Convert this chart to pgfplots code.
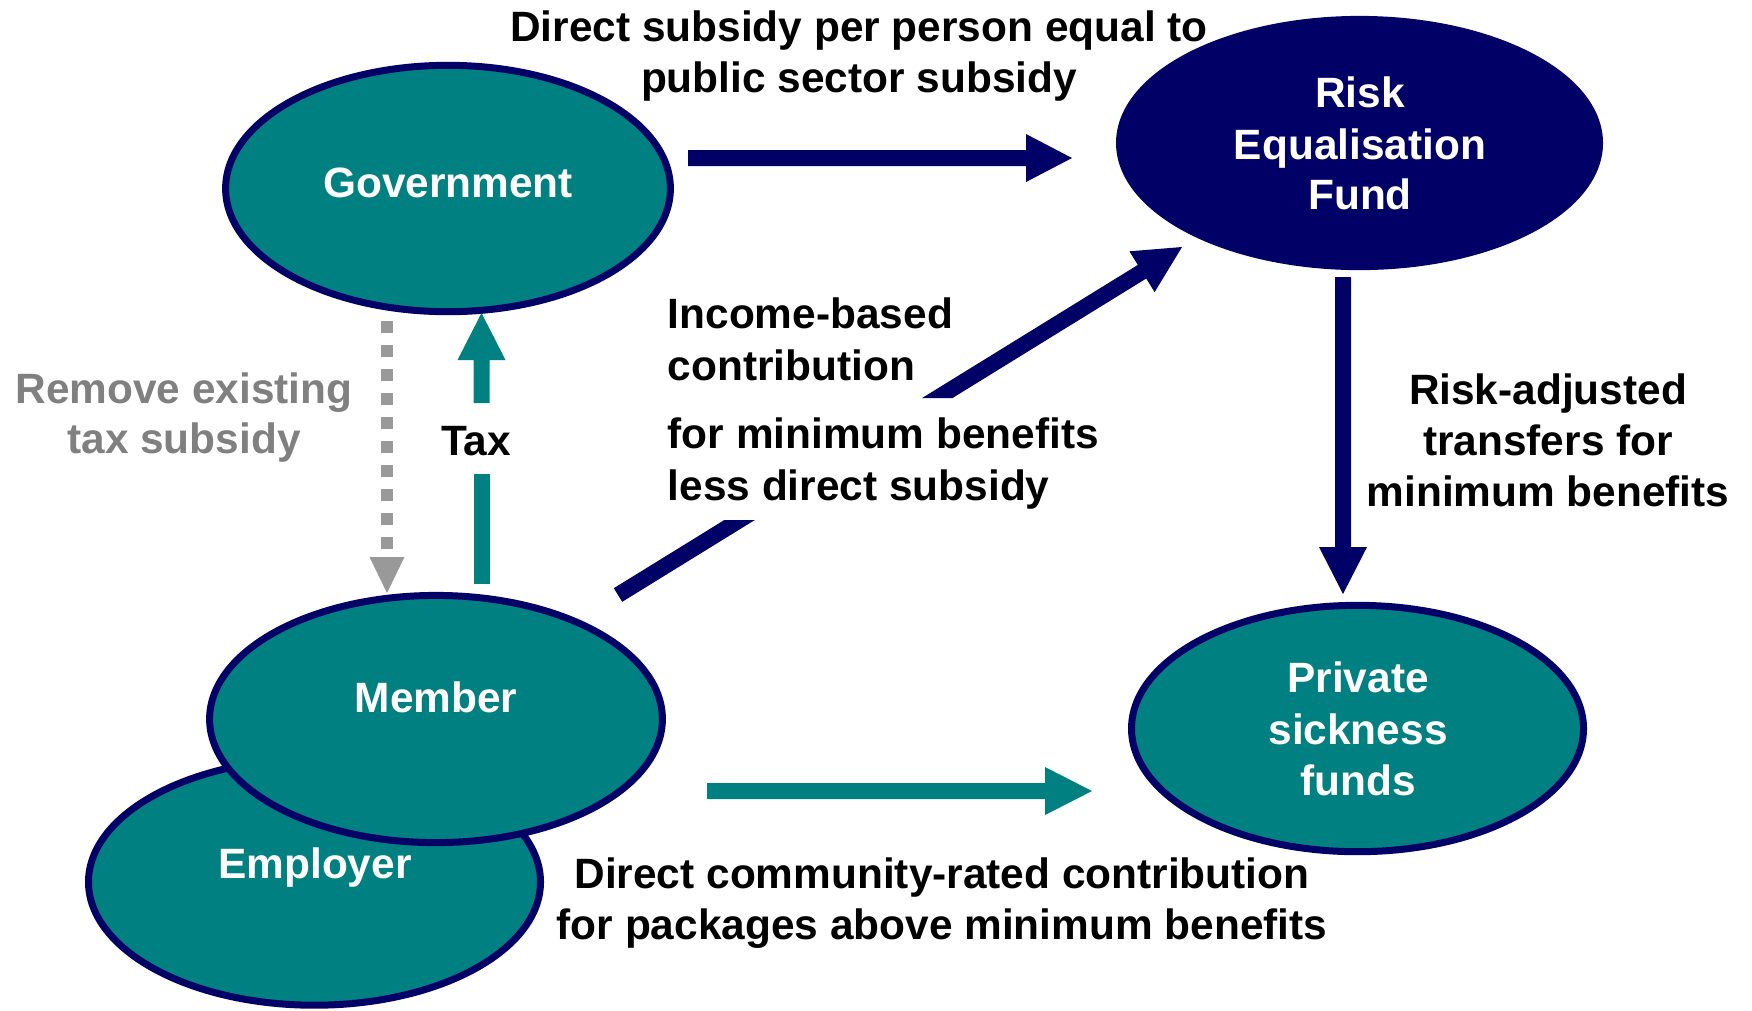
\documentclass[border=0pt]{standalone}
\usepackage{pgfplots}
\pgfplotsset{compat=1.18}
\usepackage{fontspec}
\setmainfont{Liberation Sans}[BoldFont={Liberation Sans Bold}]
\definecolor{tealc}{HTML}{008080}
\definecolor{navyc}{HTML}{000066}
\definecolor{agray}{HTML}{999999}
\definecolor{tgray}{HTML}{808080}
\tikzset{lbl/.style={inner sep=0pt, font=\bfseries\fontsize{10.6}{13}\selectfont}}
\begin{document}
\begin{tikzpicture}
\begin{axis}[width=438pt, height=252.5pt, scale only axis,
  xmin=0, xmax=1752, ymin=0, ymax=1010, y dir=reverse, hide axis]
\addplot[draw=none] coordinates {(0,0) (1752,1010)};
% ellipses
\draw[navyc, line width=1.75pt, fill=tealc] (axis cs:314.5,882) ellipse [x radius=56.5pt, y radius=30.8pt];
\draw[navyc, line width=1.75pt, fill=tealc] (axis cs:436,719) ellipse [x radius=56.6pt, y radius=30.9pt];
\draw[navyc, line width=1.75pt, fill=tealc] (axis cs:448,188.5) ellipse [x radius=55.6pt, y radius=30.8pt];
\draw[navyc, line width=1.75pt, fill=navyc] (axis cs:1359.5,143) ellipse [x radius=60pt, y radius=30.9pt];
\draw[navyc, line width=1.75pt, fill=tealc] (axis cs:1357.5,728.5) ellipse [x radius=56.5pt, y radius=30.8pt];
% Government -> Risk fund
\addplot[fill=navyc, draw=none] coordinates {(688,150) (1026,150) (1026,134) (1072,158) (1026,182) (1026,166) (688,166)} -- cycle;
% Member -> Risk fund (diagonal, split by text)
\addplot[fill=navyc, draw=none] coordinates {(922.1,398) (1137.8,264.9) (1129.4,251.3) (1182,247) (1154.6,292.1) (1146.2,278.5) (952.5,398)} -- cycle;
\addplot[fill=navyc, draw=none] coordinates {(613.8,588.2) (724.3,520) (754.8,520) (622.2,601.8)} -- cycle;
% Risk fund -> Private funds
\addplot[fill=navyc, draw=none] coordinates {(1335,277) (1351,277) (1351,547) (1367,547) (1343,594) (1319,547) (1335,547)} -- cycle;
% Member -> Private funds
\addplot[fill=tealc, draw=none] coordinates {(707,783) (1045,783) (1045,767) (1092,791) (1045,815) (1045,799) (707,799)} -- cycle;
% Tax arrow
\addplot[fill=tealc, draw=none] coordinates {(473.5,403) (473.5,360) (457.5,360) (481.5,313) (505.5,360) (489.5,360) (489.5,403)} -- cycle;
\addplot[fill=tealc, draw=none] coordinates {(473.5,474) (489.5,474) (489.5,584) (473.5,584)} -- cycle;
% dashed gray arrow
\addplot[agray, line width=3pt, dash pattern=on 3pt off 3pt] coordinates {(387,321) (387,549)};
\addplot[fill=agray, draw=none] coordinates {(369.5,557) (404.5,557) (387,593)} -- cycle;
% ellipse labels
\node[lbl, anchor=base, white] at (axis cs:448,197) {Government};
\node[lbl, anchor=base, white] at (axis cs:1360,107) {Risk};
\node[lbl, anchor=base, white] at (axis cs:1360,159) {Equalisation};
\node[lbl, anchor=base, white] at (axis cs:1360,209) {Fund};
\node[lbl, anchor=base, white] at (axis cs:436,712) {Member};
\node[lbl, anchor=base, white] at (axis cs:315,878) {Employer};
\node[lbl, anchor=base, white] at (axis cs:1358,692) {Private};
\node[lbl, anchor=base, white] at (axis cs:1358,744) {sickness};
\node[lbl, anchor=base, white] at (axis cs:1358,795) {funds};
% flow labels
\node[lbl, anchor=base] at (axis cs:859,41) {Direct subsidy per person equal to};
\node[lbl, anchor=base] at (axis cs:859,92) {public sector subsidy};
\node[lbl, anchor=base west] at (axis cs:667,328) {Income-based};
\node[lbl, anchor=base west] at (axis cs:667,380) {contribution};
\node[lbl, anchor=base west] at (axis cs:667,448) {for minimum benefits};
\node[lbl, anchor=base west] at (axis cs:667,500) {less direct subsidy};
\node[lbl, anchor=base, tgray] at (axis cs:184,403) {Remove existing};
\node[lbl, anchor=base, tgray] at (axis cs:184,453) {tax subsidy};
\node[lbl, anchor=base] at (axis cs:476,455) {Tax};
\node[lbl, anchor=base] at (axis cs:1548,404) {Risk-adjusted};
\node[lbl, anchor=base] at (axis cs:1548,455) {transfers for};
\node[lbl, anchor=base] at (axis cs:1548,506) {minimum benefits};
\node[lbl, anchor=base] at (axis cs:942,888) {Direct community-rated contribution};
\node[lbl, anchor=base] at (axis cs:942,939) {for packages above minimum benefits};
\end{axis}
\end{tikzpicture}
\end{document}
